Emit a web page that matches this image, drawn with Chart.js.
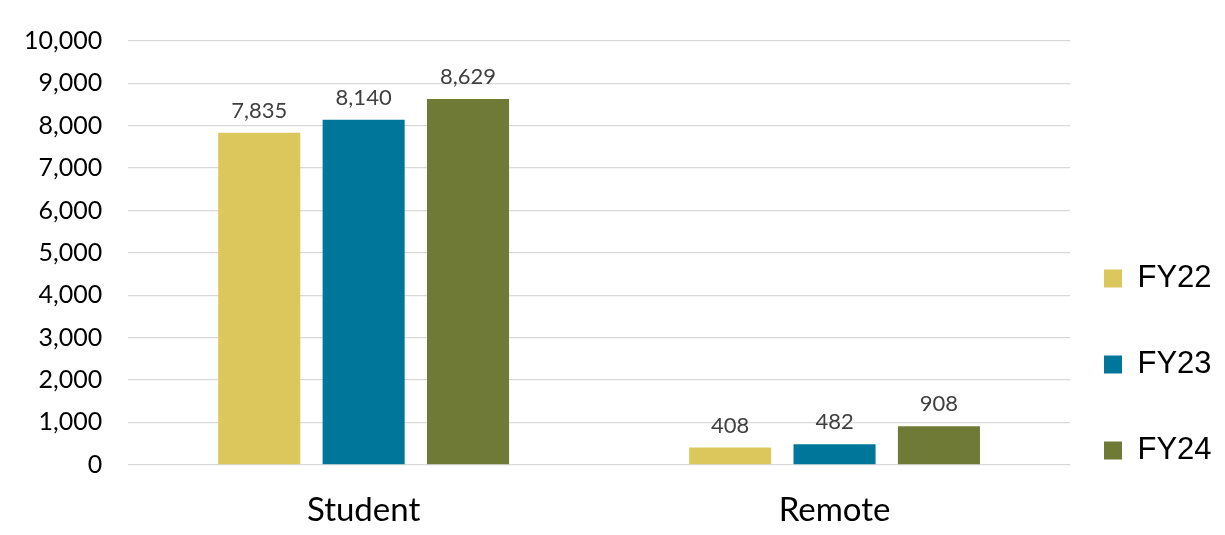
<!DOCTYPE html>
<html>
<head>
<meta charset="utf-8">
<script src="https://cdn.jsdelivr.net/npm/chart.js@4/dist/chart.umd.min.js"></script>
<style>
  html, body { margin: 0; padding: 0; background: #ffffff; overflow: hidden; }
  #wrap { width: 1225px; height: 535px; }
  canvas { display: block; }
</style>
</head>
<body>
<div id="wrap"><canvas id="c" width="1225" height="535"></canvas></div>
<script>
// ---- data ----
const categories = ['Student', 'Remote'];
const seriesNames = ['FY22', 'FY23', 'FY24'];
const fy22 = [7835, 408];
const fy23 = [8140, 482];
const fy24 = [8629, 908];
const yMin = 0;
const yMax = 10000;
const yStep = 1000;

// ---- style ----
const colors = ['#DBC75C', '#00779A', '#6E7A35'];
const seriesValues = [fy22, fy23, fy24];

const valueLabels = {
  id: 'valueLabels',
  afterDatasetsDraw(chart) {
    const ctx = chart.ctx;
    ctx.save();
    ctx.font = '22px Lato';
    ctx.fillStyle = '#404040';
    ctx.textAlign = 'center';
    ctx.textBaseline = 'alphabetic';
    chart.data.datasets.forEach((ds, i) => {
      const meta = chart.getDatasetMeta(i);
      meta.data.forEach((bar, j) => {
        ctx.fillText(ds.data[j].toLocaleString('en-US'), bar.x, bar.y - 15);
      });
    });
    ctx.restore();
  }
};

// moves the legend block to sit like the reference (right of plot, lower half)
const legendPlacement = {
  id: 'legendPlacement',
  afterLayout(chart) {
    const lg = chart.legend;
    if (!lg) return;
    lg.left -= 21;
    lg.top += 168;
    lg.bottom += 168;
  }
};

new Chart(document.getElementById('c'), {
  type: 'bar',
  data: {
    labels: categories,
    datasets: seriesNames.map((name, i) => ({
      label: name,
      data: seriesValues[i],
      backgroundColor: colors[i],
      borderWidth: 0,
      categoryPercentage: 0.665,
      barPercentage: 0.786
    }))
  },
  options: {
    responsive: false,
    animation: false,
    devicePixelRatio: 1,
    layout: { padding: { left: -2, top: 40, right: 0, bottom: -20 } },
    plugins: {
      tooltip: { enabled: false },
      legend: {
        position: 'right',
        align: 'start',
        maxWidth: 155,
        labels: {
          boxWidth: 18,
          boxHeight: 18,
          padding: 55,
          color: '#000000',
          font: { family: '"Liberation Sans", Arial, sans-serif', size: 31 }
        }
      }
    },
    scales: {
      x: {
        grid: { display: false, drawTicks: false },
        border: { display: false },
        ticks: {
          padding: 25.3,
          color: '#000000',
          font: { family: 'Lato', size: 33 }
        }
      },
      y: {
        min: yMin,
        max: yMax,
        grid: { color: '#d9d9d9', lineWidth: 1.3, drawTicks: false },
        border: { display: false },
        ticks: {
          stepSize: yStep,
          padding: 26,
          color: '#000000',
          font: { family: 'Lato', size: 25 },
          callback: (v) => Number(v).toLocaleString('en-US')
        }
      }
    }
  },
  plugins: [valueLabels, legendPlacement]
});
</script>
</body>
</html>
